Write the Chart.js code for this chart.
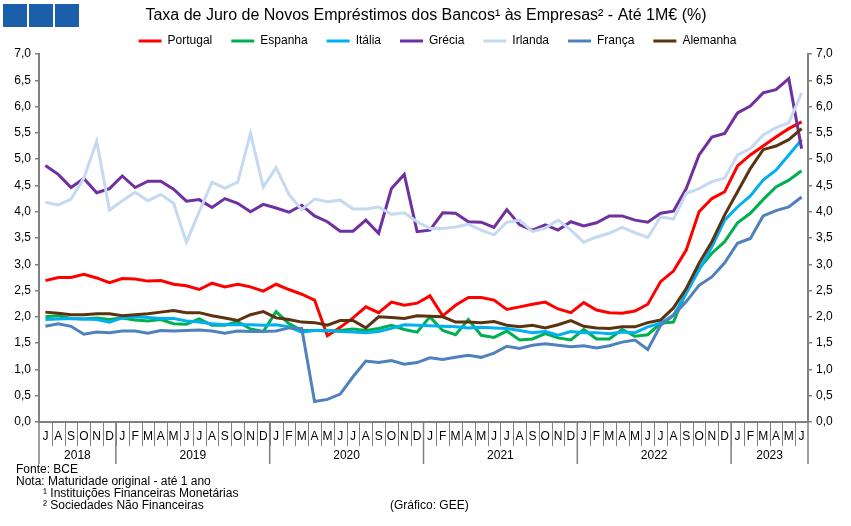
<!DOCTYPE html>
<html>
<head>
<meta charset="utf-8">
<script src="https://cdn.jsdelivr.net/npm/chart.js@4.4.1/dist/chart.umd.min.js"></script>
<style>
  body { margin: 0; background: #fff; }
  canvas { display: block; }
</style>
</head>
<body>
<canvas id="grafico" width="851" height="526"></canvas>
<script>
// meses de Jul 2018 a Jun 2023
const meses = [
  'J','A','S','O','N','D',
  'J','F','M','A','M','J','J','A','S','O','N','D',
  'J','F','M','A','M','J','J','A','S','O','N','D',
  'J','F','M','A','M','J','J','A','S','O','N','D',
  'J','F','M','A','M','J','J','A','S','O','N','D',
  'J','F','M','A','M','J'
];
const anos = ['2018', '2019', '2020', '2021', '2022', '2023'];
const mesesPorAno = [6, 12, 12, 12, 12, 6];

const portugal = [2.69, 2.75, 2.75, 2.81, 2.74, 2.65, 2.73, 2.72, 2.68, 2.69, 2.62, 2.59, 2.52, 2.64, 2.57, 2.62, 2.57, 2.49, 2.62, 2.52,
  2.43, 2.32, 1.64, 1.80, 1.98, 2.19, 2.08, 2.28, 2.22, 2.26, 2.40, 2.02, 2.22, 2.37, 2.37, 2.32, 2.14, 2.19, 2.24, 2.28, 2.15, 2.08,
  2.27, 2.13, 2.08, 2.07, 2.11, 2.24, 2.67, 2.87, 3.27, 4.00, 4.25, 4.38, 4.87, 5.08, 5.25, 5.42, 5.58, 5.71];
const espanha = [2.00, 2.02, 1.97, 1.96, 1.98, 1.95, 1.98, 1.94, 1.92, 1.95, 1.87, 1.86, 1.96, 1.84, 1.84, 1.91, 1.77, 1.72, 2.10, 1.87,
  1.74, 1.74, 1.73, 1.74, 1.77, 1.74, 1.78, 1.84, 1.76, 1.71, 2.00, 1.74, 1.66, 1.95, 1.65, 1.61, 1.73, 1.56, 1.58, 1.68,
  1.60, 1.56, 1.76, 1.58, 1.58, 1.76, 1.63, 1.66, 1.88, 1.90, 2.48, 2.92, 3.21, 3.43, 3.79, 3.97, 4.23, 4.47, 4.60, 4.78];
const italia = [1.95, 1.96, 1.97, 1.96, 1.95, 1.90, 1.98, 2.00, 1.99, 1.97, 1.97, 1.92, 1.90, 1.87, 1.85, 1.85, 1.85, 1.84, 1.85, 1.81,
  1.71, 1.74, 1.74, 1.72, 1.71, 1.70, 1.72, 1.78, 1.85, 1.84, 1.83, 1.82, 1.81, 1.79, 1.80, 1.79, 1.78, 1.74, 1.70, 1.72,
  1.65, 1.72, 1.70, 1.70, 1.68, 1.71, 1.70, 1.81, 1.88, 2.03, 2.45, 2.89, 3.33, 3.84, 4.09, 4.30, 4.60, 4.79, 5.08, 5.37];
const grecia = [4.88, 4.71, 4.46, 4.63, 4.36, 4.44, 4.68, 4.46, 4.58, 4.58, 4.43, 4.20, 4.23, 4.08, 4.25, 4.16, 4.00, 4.14, 4.07, 3.99,
  4.12, 3.92, 3.81, 3.63, 3.63, 3.84, 3.59, 4.44, 4.71, 3.62, 3.65, 3.98, 3.97, 3.81, 3.80, 3.70, 4.04, 3.75, 3.65, 3.75, 3.65, 3.81,
  3.73, 3.79, 3.92, 3.92, 3.84, 3.80, 3.97, 4.01, 4.44, 5.08, 5.42, 5.49, 5.88, 6.01, 6.26, 6.32, 6.53, 5.20];
const irlanda = [4.18, 4.13, 4.24, 4.64, 5.34, 4.03, 4.21, 4.37, 4.21, 4.33, 4.16, 3.42, 4.00, 4.56, 4.45, 4.56, 5.49, 4.47, 4.84, 4.33,
  4.04, 4.24, 4.19, 4.22, 4.05, 4.05, 4.09, 3.95, 3.98, 3.81, 3.68, 3.68, 3.71, 3.76, 3.65, 3.56, 3.80, 3.84, 3.62, 3.69, 3.84, 3.65,
  3.42, 3.52, 3.59, 3.70, 3.60, 3.51, 3.90, 3.86, 4.35, 4.44, 4.57, 4.64, 5.08, 5.20, 5.46, 5.60, 5.69, 6.26];
const franca = [1.82, 1.87, 1.82, 1.67, 1.71, 1.70, 1.73, 1.73, 1.69, 1.74, 1.73, 1.74, 1.75, 1.73, 1.69, 1.73, 1.72, 1.72, 1.73, 1.79,
  1.78, 0.39, 0.43, 0.53, 0.86, 1.16, 1.13, 1.17, 1.10, 1.13, 1.22, 1.19, 1.23, 1.27, 1.23, 1.31, 1.44, 1.40, 1.46, 1.49, 1.46, 1.43,
  1.45, 1.41, 1.45, 1.52, 1.56, 1.38, 1.84, 2.03, 2.29, 2.60, 2.76, 3.03, 3.40, 3.49, 3.92, 4.02, 4.09, 4.28];
const alemanha = [2.09, 2.07, 2.04, 2.04, 2.06, 2.06, 2.02, 2.04, 2.06, 2.09, 2.12, 2.08, 2.08, 2.02, 1.98, 1.93, 2.04, 2.10, 1.98, 1.95,
  1.90, 1.89, 1.84, 1.93, 1.93, 1.79, 2.00, 1.99, 1.97, 2.02, 2.01, 2.00, 1.90, 1.90, 1.89, 1.91, 1.84, 1.81, 1.84, 1.79, 1.85, 1.93,
  1.82, 1.79, 1.78, 1.81, 1.81, 1.89, 1.94, 2.17, 2.54, 3.02, 3.43, 3.94, 4.38, 4.82, 5.18, 5.25, 5.37, 5.58];

const nomes = ['Portugal', 'Espanha', 'Itália', 'Grécia', 'Irlanda', 'França', 'Alemanha'];
const series = [portugal, espanha, italia, grecia, irlanda, franca, alemanha];
const cores = ['#ff0000', '#00b050', '#00b0f0', '#7030a0', '#c5d9f1', '#4f81bd', '#5c3310'];

const fonte = '"Liberation Sans", Arial, sans-serif';

// titulo, logotipo, anos e notas
const extras = {
  id: 'extras',
  afterLayout(chart) {
    chart.legend.left += 12;
    chart.legend.right += 12;
  },
  afterDraw(chart) {
    const ctx = chart.ctx;
    const x = chart.scales.x;
    const area = chart.chartArea;
    ctx.save();

    ctx.fillStyle = '#1b5faa';
    [3, 29, 55].forEach(px => ctx.fillRect(px, 4, 24, 23));

    ctx.fillStyle = '#000';
    ctx.font = '16px ' + fonte;
    ctx.textAlign = 'center';
    ctx.textBaseline = 'middle';
    ctx.fillText('Taxa de Juro de Novos Empréstimos dos Bancos¹ às Empresas² - Até 1M€ (%)', 426, 16);

    // separadores dos meses e dos anos
    const meio = (x.getPixelForValue(1) - x.getPixelForValue(0)) / 2;
    ctx.strokeStyle = '#808080';
    ctx.lineWidth = 1;
    ctx.beginPath();
    for (let i = 1; i < meses.length; i++) {
      const px = Math.round(x.getPixelForValue(i) - meio) + 0.5;
      ctx.moveTo(px, area.bottom);
      ctx.lineTo(px, area.bottom + 24);
    }
    ctx.stroke();

    ctx.lineWidth = 1.5;
    ctx.font = '12px ' + fonte;
    let inicio = 0;
    ctx.beginPath();
    anos.forEach((ano, k) => {
      const fim = inicio + mesesPorAno[k] - 1;
      const x0 = x.getPixelForValue(inicio) - meio;
      const x1 = x.getPixelForValue(fim) + meio;
      ctx.moveTo(x0, area.bottom);
      ctx.lineTo(x0, area.bottom + 42);
      if (k === anos.length - 1) {
        ctx.moveTo(x1, area.bottom);
        ctx.lineTo(x1, area.bottom + 42);
      }
      ctx.fillText(ano, (x0 + x1) / 2, area.bottom + 34);
      inicio = fim + 1;
    });
    ctx.stroke();

    ctx.textAlign = 'left';
    ctx.fillText('Fonte: BCE', 16, 470);
    ctx.fillText('Nota: Maturidade original - até 1 ano', 16, 482);
    ctx.fillText('¹ Instituições Financeiras Monetárias', 43, 494);
    ctx.fillText('² Sociedades Não Financeiras', 43, 506);
    ctx.fillText('(Gráfico: GEE)', 390, 506);
    ctx.restore();
  }
};

const eixoY = (posicao, largura) => ({
  position: posicao,
  min: 0,
  max: 7,
  ticks: {
    stepSize: 0.5,
    padding: 4,
    color: '#000',
    font: { family: fonte, size: 12 },
    callback: v => v.toFixed(1).replace('.', ',')
  },
  grid: { drawOnChartArea: false, tickLength: 4, color: '#808080', lineWidth: 1.5 },
  border: { color: '#808080', width: 2 },
  afterFit(scale) { scale.width = largura; }
});

new Chart(document.getElementById('grafico'), {
  type: 'line',
  data: {
    labels: meses,
    datasets: series.map((valores, i) => ({
      label: nomes[i],
      data: valores,
      borderColor: cores[i],
      backgroundColor: cores[i],
      borderWidth: 3,
      pointRadius: 0,
      tension: 0,
      order: nomes.length - i
    }))
  },
  options: {
    responsive: false,
    animation: false,
    layout: { padding: { top: 16, left: 0, right: 0, bottom: 0 } },
    plugins: {
      title: { display: false },
      tooltip: { enabled: false },
      legend: {
        position: 'top',
        maxHeight: 38,
        labels: {
          boxWidth: 23,
          boxHeight: 3,
          padding: 19,
          color: '#000',
          font: { family: fonte, size: 12 },
          sort: (a, b) => a.datasetIndex - b.datasetIndex,
          generateLabels(chart) {
            const itens = Chart.defaults.plugins.legend.labels.generateLabels(chart);
            itens.forEach(it => { it.fillStyle = it.strokeStyle; it.lineWidth = 0; });
            return itens;
          }
        }
      }
    },
    scales: {
      x: {
        offset: true,
        ticks: {
          autoSkip: false,
          maxRotation: 0,
          padding: 7,
          color: '#000',
          font: { family: fonte, size: 12 }
        },
        grid: { display: false, drawTicks: false },
        border: { color: '#808080', width: 2 },
        afterFit(scale) { scale.height = 104; }
      },
      y: eixoY('left', 39),
      y2: eixoY('right', 43)
    }
  },
  plugins: [extras]
});
</script>
</body>
</html>
